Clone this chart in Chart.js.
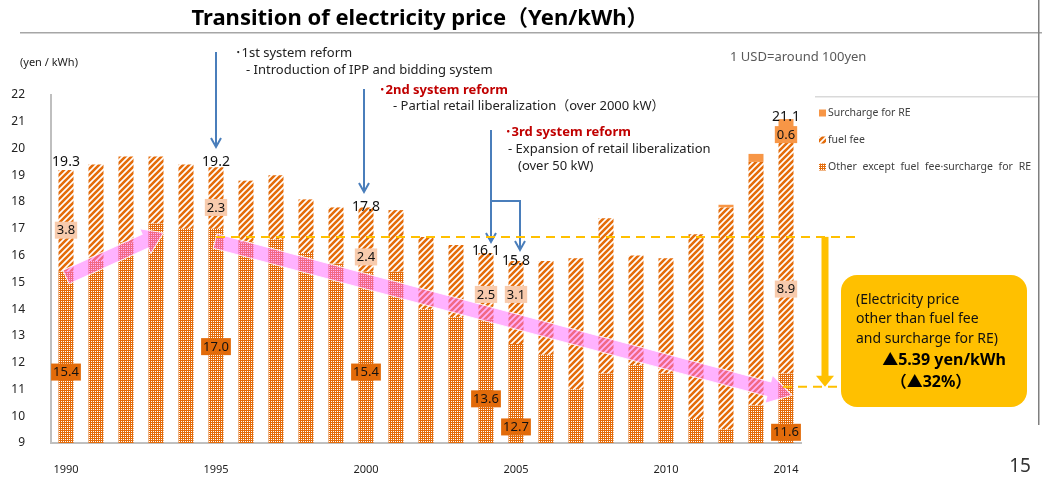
<!DOCTYPE html>
<html>
<head>
<meta charset="utf-8">
<script src="https://cdn.jsdelivr.net/npm/chart.js@4"></script>
<style>
html, body { margin: 0; padding: 0; background: #fff; }
#wrap { width: 1042px; height: 479px; position: relative; }
</style>
</head>
<body>
<div id="wrap"><canvas id="myChart" width="1042" height="479"></canvas></div>
<script>
// values (yen / kWh)
const years = ['1990','1991','1992','1993','1994','1995','1996','1997','1998','1999','2000','2001','2002',
	'2003','2004','2005','2006','2007','2008','2009','2010','2011','2012','2013','2014']
const tickYears = ['1990','1995','2000','2005','2010','2014']
const otherCost = [15.4, 15.8, 16.5, 17.2, 17.0, 17.0, 16.5, 16.6, 16.1, 15.7, 15.4, 15.4, 14.0,
	13.7, 13.6, 12.7, 12.3, 11.0, 11.6, 11.9, 11.6, 9.9, 9.5, 10.4, 11.6]
const fuelFee = [3.8, 3.6, 3.2, 2.5, 2.4, 2.3, 2.3, 2.4, 2.0, 2.1, 2.4, 2.3, 2.7,
	2.7, 2.5, 3.1, 3.5, 4.9, 5.8, 4.1, 4.3, 6.9, 8.3, 9.1, 8.9]
const surcharge = [0, 0, 0, 0, 0, 0, 0, 0, 0, 0, 0, 0, 0,
	0, 0, 0, 0, 0, 0, 0, 0, 0, 0.1, 0.3, 0.6]
const totalPrice = [19.3, 19.4, 19.7, 19.7, 19.4, 19.2, 18.8, 19.0, 18.1, 17.8, 17.8, 17.7, 16.7,
	16.4, 16.1, 15.8, 15.8, 15.9, 17.4, 16.0, 15.9, 16.8, 17.9, 19.8, 21.1]
const labelYears = ['1990','1995','2000','2004','2005','2014']
const guideLevels = [16.7, 11.1]

const FONT = "'Noto Sans', 'Noto Sans CJK JP', sans-serif"
const ORANGE = '#E46C0A'
const canvas = document.getElementById('myChart')
const ctx0 = canvas.getContext('2d')

function crossPattern(color) {
	const t = document.createElement('canvas')
	t.width = 4; t.height = 4
	const g = t.getContext('2d')
	g.fillStyle = color
	g.fillRect(0, 0, 4, 4)
	g.fillStyle = '#fff'
	// fine grid of white dots
	g.fillRect(1, 1, 1, 1); g.fillRect(3, 3, 1, 1)
	g.fillRect(1, 3, 1, 1); g.fillRect(3, 1, 1, 1)
	return ctx0.createPattern(t, 'repeat')
}
function stripePattern(color) {
	const t = document.createElement('canvas')
	t.width = 6; t.height = 6
	const g = t.getContext('2d')
	g.fillStyle = '#fff'
	g.fillRect(0, 0, 6, 6)
	g.strokeStyle = color
	g.lineWidth = 2.6
	g.beginPath()
	g.moveTo(-1, 7); g.lineTo(7, -1)
	g.moveTo(-1, 1); g.lineTo(1, -1)
	g.moveTo(5, 7); g.lineTo(7, 5)
	g.stroke()
	return ctx0.createPattern(t, 'repeat')
}

function fatArrow(ctx, x1, y1, x2, y2, w, hw, hl) {
	const a = Math.atan2(y2 - y1, x2 - x1)
	const len = Math.hypot(x2 - x1, y2 - y1)
	ctx.save()
	ctx.translate(x1, y1)
	ctx.rotate(a)
	ctx.beginPath()
	ctx.moveTo(0, -w / 2)
	ctx.lineTo(len - hl, -w / 2)
	ctx.lineTo(len - hl, -hw / 2)
	ctx.lineTo(len, 0)
	ctx.lineTo(len - hl, hw / 2)
	ctx.lineTo(len - hl, w / 2)
	ctx.lineTo(0, w / 2)
	ctx.closePath()
	ctx.fill()
	ctx.strokeStyle = 'rgba(255,255,255,0.9)'
	ctx.lineWidth = 1
	ctx.stroke()
	ctx.restore()
}

function blueArrow(ctx, pts) {
	ctx.save()
	ctx.strokeStyle = '#4A7EBB'
	ctx.lineWidth = 2
	ctx.beginPath()
	ctx.moveTo(pts[0][0], pts[0][1])
	for (let i = 1; i < pts.length; i++) ctx.lineTo(pts[i][0], pts[i][1])
	const [ex, ey] = pts[pts.length - 1]
	ctx.moveTo(ex - 5, ey - 9)
	ctx.lineTo(ex, ey)
	ctx.lineTo(ex + 5, ey - 9)
	ctx.stroke()
	ctx.restore()
}

function tag(ctx, text, x, y, bg, size) {
	ctx.font = (size || 13) + 'px ' + FONT
	const w = ctx.measureText(text).width
	if (bg) {
		ctx.fillStyle = bg
		ctx.fillRect(x - w / 2 - 2, y - 8.5, w + 4, 17)
	}
	ctx.fillStyle = '#111'
	ctx.textAlign = 'center'
	ctx.textBaseline = 'middle'
	ctx.fillText(text, x, y + 0.5)
}

function text(ctx, str, x, y, opts) {
	opts = opts || {}
	ctx.font = (opts.bold ? 'bold ' : '') + (opts.size || 13) + 'px ' + FONT
	ctx.fillStyle = opts.color || '#222'
	ctx.textAlign = opts.align || 'left'
	ctx.textBaseline = 'middle'
	ctx.fillText(str, x, y)
}

const overlay = {
	id: 'overlay',
	afterDraw(chart, args, opt) {
		const ctx = chart.ctx
		const xs = chart.scales.x, ys = chart.scales.y
		const px = i => xs.getPixelForValue(i)
		const py = v => ys.getPixelForValue(v)

		// title and page frame
		text(ctx, 'Transition of electricity price（Yen/kWh）', 420, 19, {bold: true, size: 22, align: 'center', color: '#000'})
		ctx.fillStyle = '#a6a6a6'
		ctx.fillRect(20, 32, 1022, 1.5)
		ctx.fillStyle = '#7f7f7f'
		ctx.fillRect(1038, 0, 1.5, 425)
		text(ctx, '(yen / kWh)', 20, 63, {size: 11})
		text(ctx, '1 USD=around 100yen', 730, 57, {size: 13, color: '#595959'})
		text(ctx, '15', 1020, 467, {size: 19, align: 'center', color: '#333'})

		// reform notes
		text(ctx, '･1st system reform', 235, 53, {size: 13})
		text(ctx, '- Introduction of IPP and bidding system', 246, 70, {size: 13})
		text(ctx, '･2nd system reform', 379, 90, {size: 13, bold: true, color: '#C00000'})
		text(ctx, '- Partial retail liberalization（over 2000 kW）', 393, 106, {size: 13})
		text(ctx, '･3rd system reform', 505, 132, {size: 13, bold: true, color: '#C00000'})
		text(ctx, '- Expansion of retail liberalization', 508, 149, {size: 13})
		text(ctx, '(over 50 kW)', 518, 166, {size: 13})
		blueArrow(ctx, [[216, 52], [216, 147]])
		blueArrow(ctx, [[364, 89], [364, 192]])
		blueArrow(ctx, [[491, 130], [491, 242]])
		blueArrow(ctx, [[491, 201], [520, 201], [520, 250]])

		// pink trend arrows
		ctx.fillStyle = 'rgba(255,102,255,0.5)'
		fatArrow(ctx, px(0), py(15.2), px(3.25), py(16.85), 15, 27, 20)
		fatArrow(ctx, px(4.97), py(16.55), px(24.2), py(10.78), 15, 29, 24)

		// yellow guide lines
		ctx.save()
		ctx.strokeStyle = '#FFC000'
		ctx.lineWidth = 2
		ctx.setLineDash([9, 6])
		ctx.beginPath()
		ctx.moveTo(px(5), py(guideLevels[0])); ctx.lineTo(860, py(guideLevels[0]))
		ctx.moveTo(px(23.9), py(guideLevels[1])); ctx.lineTo(842, py(guideLevels[1]))
		ctx.stroke()
		ctx.restore()
		ctx.fillStyle = '#FFC000'
		const ax = 825, ay1 = py(guideLevels[0]), ay2 = py(guideLevels[1])
		ctx.fillRect(ax - 3.5, ay1, 7, ay2 - ay1 - 10)
		ctx.beginPath()
		ctx.moveTo(ax - 9, ay2 - 11); ctx.lineTo(ax + 9, ay2 - 11); ctx.lineTo(ax, ay2); ctx.closePath()
		ctx.fill()

		// note box
		ctx.beginPath()
		ctx.roundRect(841, 275, 186, 132, 16)
		ctx.fill()
		text(ctx, '(Electricity price', 856, 300, {size: 14, color: '#111'})
		text(ctx, 'other than fuel fee', 856, 319, {size: 14, color: '#111'})
		text(ctx, 'and surcharge for RE)', 856, 339, {size: 14, color: '#111'})
		text(ctx, '▲5.39 yen/kWh', 944, 360, {size: 16, bold: true, align: 'center', color: '#000'})
		text(ctx, '（▲32%）', 931, 382, {size: 16, bold: true, align: 'center', color: '#000'})

		// value tags
		const spots = opt.spots
		labelYears.forEach((yr, k) => {
			const i = years.indexOf(yr)
			tag(ctx, otherCost[i].toFixed(1), px(i), py(spots.other[k]), '#E26B0A')
			tag(ctx, fuelFee[i].toFixed(1), px(i), py(spots.fuel[k]), '#F8CBAD')
			tag(ctx, totalPrice[i].toFixed(1), px(i), py(spots.total[k]), null, 14)
		})
		const last = years.length - 1
		tag(ctx, surcharge[last].toFixed(1), px(last), py(spots.surcharge), '#F79646')

		// legend
		ctx.fillStyle = '#d9d9d9'
		ctx.fillRect(815, 96, 223, 1.5)
		const ds = chart.data.datasets
		const legendY = [113, 140, 167]
		;[2, 1, 0].forEach((d, k) => {
			ctx.fillStyle = ds[d].backgroundColor
			ctx.fillRect(819, legendY[k] - 3.5, 7, 7)
			ctx.save()
			if (k == 2) ctx.wordSpacing = '3px'
			text(ctx, ds[d].label, 828, legendY[k], {size: 10.5, color: '#404040'})
			ctx.restore()
		})
	}
}

new Chart(canvas, {
	type: 'bar',
	data: {
		labels: years,
		datasets: [
			{label: 'Other except fuel fee·surcharge for RE', data: otherCost, backgroundColor: crossPattern(ORANGE)},
			{label: 'fuel fee', data: fuelFee, backgroundColor: stripePattern(ORANGE)},
			{label: 'Surcharge for RE', data: surcharge, backgroundColor: '#F79646'}
		]
	},
	options: {
		responsive: false,
		animation: false,
		events: [],
		devicePixelRatio: 1,
		layout: {padding: {left: 0, right: 241, top: 95, bottom: 0}},
		datasets: {bar: {barPercentage: 0.5, categoryPercentage: 1}},
		plugins: {
			legend: {display: false},
			tooltip: {enabled: false},
			overlay: {
				spots: {
					other: [11.65, 12.6, 11.65, 10.65, 9.6, 9.4],
					fuel: [16.95, 17.8, 15.95, 14.55, 14.55, 14.75],
					total: [19.5, 19.5, 17.85, 16.2, 15.8, 21.2],
					surcharge: 20.52
				}
			}
		},
		scales: {
			x: {
				stacked: true,
				grid: {display: false},
				border: {display: true, color: '#bfbfbf', width: 2},
				ticks: {
					autoSkip: false, maxRotation: 0, padding: 12, color: '#222',
					font: {size: 11, family: FONT},
					callback: (v, i) => tickYears.includes(years[i]) ? years[i] : ''
				},
				afterFit: s => { s.height = 36 }
			},
			y: {
				stacked: true,
				min: 9,
				max: 22,
				grid: {display: false},
				border: {display: true, color: '#bfbfbf', width: 2},
				ticks: {stepSize: 1, padding: 18, color: '#222', font: {size: 12, family: FONT}},
				afterFit: s => { s.width = 51 }
			}
		}
	},
	plugins: [overlay]
})
</script>
</body>
</html>
